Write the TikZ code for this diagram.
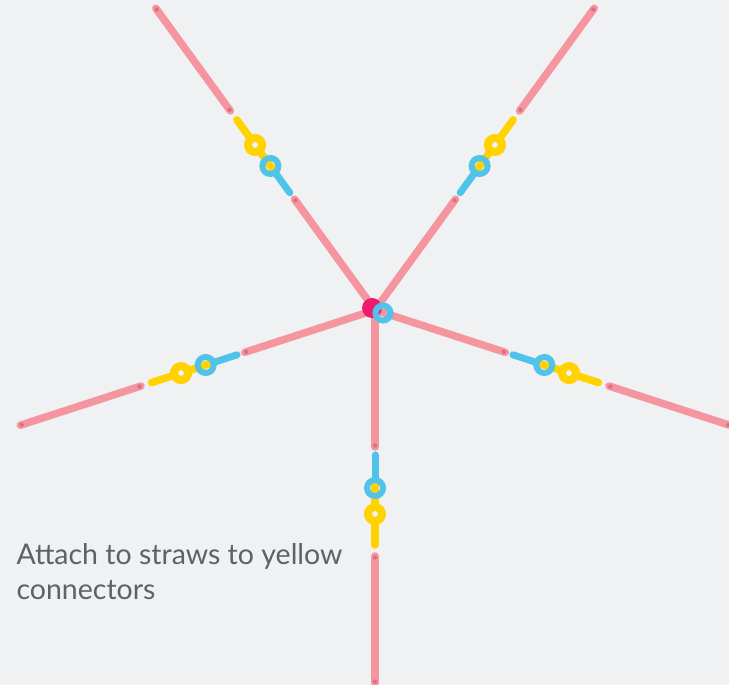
\documentclass[tikz,border=0pt]{standalone}
\usepackage{fontspec}
\setmainfont{Lato}
\usetikzlibrary{calc}

\definecolor{bgcol}{HTML}{F0F1F3}
\definecolor{strawcol}{HTML}{F595A0}
\definecolor{strawtip}{HTML}{DE6E80}
\definecolor{bluecol}{HTML}{4FC3EA}
\definecolor{yellowcol}{HTML}{FFD200}
\definecolor{hubcol}{HTML}{EE1C6E}
\definecolor{textcol}{HTML}{5F6166}

\tikzset{
	straw/.style = {line width = 7.5, draw = strawcol, line cap = round},
	yellowstick/.style = {line width = 7.5, draw = yellowcol, line cap = round},
	yellowring/.style = {line width = 8, draw = yellowcol},
	bluestick/.style = {line width = 7, draw = bluecol, line cap = round},
	bluering/.style = {line width = 6, draw = bluecol},
	caption/.style = {text = textcol, align = left, font = \fontsize{28.5}{35}\selectfont}
}

\begin{document}
\begin{tikzpicture}[x = 1pt, y = 1pt]

	% Background and size
	
	\useasboundingbox [fill = bgcol] (0, 0) rectangle (729, 685);
	
	% Definition
	
	\def\In{137} 		% End of inner straw
	\def\Out{246} 		% Start of outer straw
	\def\L{373} 		% Length of arm
	
	\coordinate (hub) at (375, 375);
	
	% Five arms: straws, yellow and blue connectors
	
	\foreach \a in {54, 126, 198, 270, 342}
	{
		\draw [straw] (hub) -- ($(hub) + (\a : \In)$);
		\draw [straw] ($(hub) + (\a : \Out)$) -- ($(hub) + (\a : \L)$);
		\fill [strawtip] ($(hub) + (\a : \In - 1.5)$) circle (2.2);
		\fill [strawtip] ($(hub) + (\a : \Out + 1.5)$) circle (2.2);
		\fill [strawtip] ($(hub) + (\a : \L - 1.5)$) circle (2.2);
		
		\draw [yellowstick] ($(hub) + (\a : 172)$) -- ($(hub) + (\a : 235)$);
		\draw [yellowring, fill = bgcol] ($(hub) + (\a : 204)$) circle (7);
		\draw [bluestick] ($(hub) + (\a : 145)$) -- ($(hub) + (\a : 168)$);
		\draw [bluering] ($(hub) + (\a : 178)$) circle (8);
	}
	
	% Hub
	
	\fill [hubcol] (372, 377) circle (10);
	\draw [bluering] (383, 372) circle (7.5);
	
	% Caption
	
	\node [caption, anchor = base west] (note) at (13, 85) {Attach to straws to yellow\\connectors};

\end{tikzpicture}
\end{document}
